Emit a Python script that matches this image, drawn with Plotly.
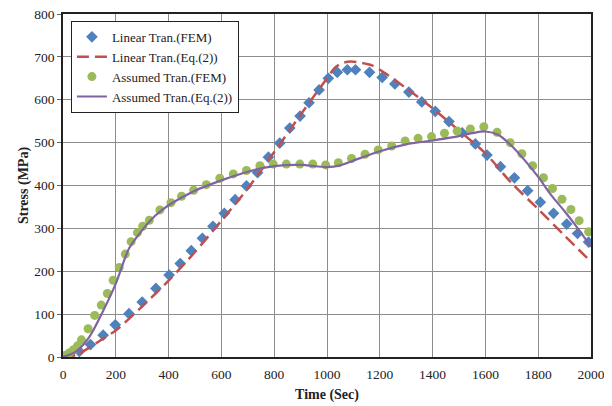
import plotly.graph_objects as go

# Linear transient - FEM (diamonds)
lin_fem_t = [0, 25, 62, 104, 152, 198, 250, 300, 352, 402, 444, 486, 528, 568, 611, 652, 695, 737, 778, 821,
             859, 898, 932, 970, 1005, 1039, 1077, 1108, 1161, 1209, 1257, 1310, 1359, 1410, 1462, 1512, 1562,
             1606, 1657, 1710, 1760, 1808, 1858, 1908, 1949, 1991]
lin_fem_s = [0, 4, 13, 29, 51, 75, 101, 128, 160, 191, 218, 248, 277, 305, 335, 367, 399, 430, 466, 499,
             534, 562, 593, 623, 650, 664, 670, 670, 664, 652, 637, 618, 595, 573, 549, 523, 497,
             471, 444, 418, 388, 361, 335, 310, 288, 268]

# Linear transient - Eq.(2) (dashed line)
lin_eq_t = [0, 50, 100, 150, 200, 300, 400, 500, 600, 700, 800, 900, 1000, 1030, 1060, 1090, 1120, 1170,
            1220, 1300, 1400, 1500, 1600, 1700, 1800, 1900, 2000]
lin_eq_s = [0, 5, 22, 42, 62, 118, 178, 245, 318, 393, 478, 565, 650, 675, 686, 689, 687, 680,
            662, 627, 580, 528, 475, 405, 345, 283, 222]

# Assumed transient - FEM (circles)
ass_fem_t = [0, 10, 25, 40, 55, 70, 95, 120, 145, 168, 190, 213, 236, 258, 282, 302, 327, 367, 409, 449,
             495, 543, 594, 645, 695, 746, 796, 846, 897, 946, 995, 1043, 1093, 1144, 1194, 1245, 1296,
             1345, 1396, 1445, 1493, 1543, 1594, 1644, 1694, 1738, 1779, 1820, 1854, 1890, 1924, 1955, 1991]
ass_fem_s = [0, 4, 10, 17, 26, 40, 66, 97, 121, 148, 179, 209, 240, 269, 290, 305, 319, 343, 360, 375,
             389, 402, 417, 427, 435, 446, 450, 450, 450, 450, 448, 453, 463, 473, 483, 492, 504,
             510, 514, 522, 527, 532, 537, 524, 500, 474, 446, 418, 393, 368, 344, 318, 292]

# Assumed transient - Eq.(2) (solid line)
ass_eq_t = [0, 50, 100, 150, 200, 250, 300, 350, 400, 500, 600, 700, 800, 900, 1000, 1050, 1100, 1200,
            1300, 1400, 1500, 1550, 1600, 1650, 1700, 1750, 1800, 1850, 1900, 1950, 2000]
ass_eq_s = [0, 13, 47, 105, 171, 253, 296, 330, 354, 388, 412, 432, 445, 448, 443, 447, 458, 480,
            496, 505, 515, 522, 526, 518, 492, 458, 420, 377, 340, 300, 257]

x_ticks = list(range(0, 2001, 200))
y_ticks = list(range(0, 801, 100))

font_family = "Liberation Serif, Times New Roman, serif"

fig = go.Figure()
fig.add_trace(go.Scatter(x=lin_fem_t, y=lin_fem_s, mode="markers", name="Linear Tran.(FEM)",
                         marker=dict(symbol="diamond", size=9, color="#4F81BD")))
fig.add_trace(go.Scatter(x=lin_eq_t, y=lin_eq_s, mode="lines", name="Linear Tran.(Eq.(2))",
                         line=dict(color="#C0504D", width=2.5, dash="12px,6px", shape="spline", smoothing=0.8)))
fig.add_trace(go.Scatter(x=ass_fem_t, y=ass_fem_s, mode="markers", name="Assumed Tran.(FEM)",
                         marker=dict(symbol="circle", size=9, color="#9BBB59")))
fig.add_trace(go.Scatter(x=ass_eq_t, y=ass_eq_s, mode="lines", name="Assumed Tran.(Eq.(2))",
                         line=dict(color="#8064A2", width=2.2, shape="spline", smoothing=0.8)))

fig.update_layout(
    width=604, height=398,
    margin=dict(l=55, r=21, t=6, b=49, autoexpand=False),
    paper_bgcolor="white", plot_bgcolor="white",
    font=dict(family=font_family, size=13.5, color="#222"),
    showlegend=True,
    legend=dict(x=0.015, y=0.98, xanchor="left", yanchor="top",
                bgcolor="white", bordercolor="#222", borderwidth=1,
                font=dict(family=font_family, size=13, color="#222"),
                tracegroupgap=0, itemwidth=30),
)
fig.update_xaxes(range=[0, 2000], tickvals=x_ticks, ticktext=[str(v) for v in x_ticks],
                 automargin=False, ticklabeloverflow="allow",
                 showgrid=True, gridcolor="#8c8c8c", gridwidth=1,
                 showline=True, linecolor="#222", linewidth=1.5, mirror=True,
                 ticks="", zeroline=False, ticklabelstandoff=4,
                 title=dict(text="<b>Time (Sec)</b>", font=dict(family=font_family, size=14, color="#222"),
                            standoff=8))
fig.update_yaxes(range=[0, 800], tickvals=y_ticks, ticktext=[str(v) for v in y_ticks],
                 automargin=False, ticklabeloverflow="allow",
                 showgrid=True, gridcolor="#8c8c8c", gridwidth=1,
                 showline=True, linecolor="#222", linewidth=1.5, mirror=True,
                 ticks="outside", ticklen=4, tickcolor="#666", zeroline=False,
                 title=dict(text="<b>Stress (MPa)</b>", font=dict(family=font_family, size=14, color="#222"),
                            standoff=2))

fig.write_html("out.html")
